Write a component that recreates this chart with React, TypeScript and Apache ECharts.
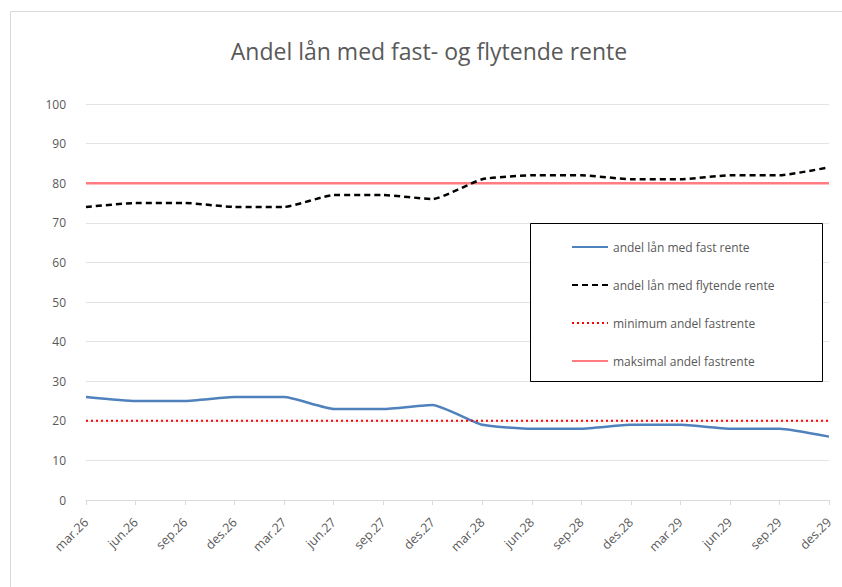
import React, { useEffect, useRef } from "react";
import * as echarts from "echarts";

const categories = [
  "mar.26", "jun.26", "sep.26", "des.26",
  "mar.27", "jun.27", "sep.27", "des.27",
  "mar.28", "jun.28", "sep.28", "des.28",
  "mar.29", "jun.29", "sep.29", "des.29",
];
const fastRente = [26, 25, 25, 26, 26, 23, 23, 24, 19, 18, 18, 19, 19, 18, 18, 16];
const flytendeRente = [74, 75, 75, 74, 74, 77, 77, 76, 81, 82, 82, 81, 81, 82, 82, 84];
const minFastrente = [20, 20, 20, 20, 20, 20, 20, 20, 20, 20, 20, 20, 20, 20, 20, 20];
const maksFastrente = [80, 80, 80, 80, 80, 80, 80, 80, 80, 80, 80, 80, 80, 80, 80, 80];

const seriesNames = [
  "andel lån med fast rente",
  "andel lån med flytende rente",
  "minimum andel fastrente",
  "maksimal andel fastrente",
];

const FONT = "'Open Sans', 'Noto Sans', sans-serif";
const TEXT = "#595959";

export default function App() {
  const ref = useRef<HTMLDivElement>(null);
  useEffect(() => {
    if (!ref.current) return;
    const chart = echarts.init(ref.current, null, { renderer: "svg" });
    chart.setOption({
      animation: false,
      backgroundColor: "#ffffff",
      title: {
        text: "Andel lån med fast- og flytende rente",
        left: 424,
        textAlign: "center",
        top: 34,
        textStyle: { fontFamily: FONT, fontSize: 23, fontWeight: "normal", color: TEXT },
      },
      graphic: [
        {
          type: "rect",
          shape: { x: 10.5, y: 11.5, width: 840, height: 580 },
          style: { fill: "none", stroke: "#d9d9d9", lineWidth: 1 },
          silent: true,
        },
        {
          type: "rect",
          shape: { x: 530.5, y: 223.5, width: 292, height: 158 },
          style: { fill: "#ffffff", stroke: "#000000", lineWidth: 1 },
          z: 5,
          silent: true,
        },
      ],
      legend: {
        orient: "vertical",
        left: 566,
        top: 236,
        itemWidth: 36,
        itemHeight: 14,
        itemGap: 26,
        z: 10,
        itemStyle: { color: "transparent", borderColor: "transparent", borderWidth: 0, opacity: 0 },
        textStyle: { fontFamily: FONT, fontSize: 12, color: TEXT },
        data: seriesNames,
      },
      grid: { left: 86, top: 104, width: 743, height: 396, containLabel: false },
      xAxis: {
        type: "category",
        data: categories,
        boundaryGap: false,
        axisLine: { lineStyle: { color: "#d9d9d9" } },
        axisTick: { show: true, length: 5, lineStyle: { color: "#d9d9d9" } },
        axisLabel: {
          rotate: 45,
          fontFamily: FONT,
          fontSize: 12.5,
          color: TEXT,
          margin: 20,
          interval: 0,
        },
      },
      yAxis: {
        type: "value",
        min: 0,
        max: 100,
        interval: 10,
        axisLine: { show: false },
        axisTick: { show: false },
        axisLabel: { fontFamily: FONT, fontSize: 12, color: TEXT, margin: 20 },
        splitLine: { lineStyle: { color: "#e3e3e3", width: 1 } },
      },
      series: [
        {
          name: seriesNames[0],
          type: "line",
          data: fastRente,
          symbol: "none",
          smooth: 0.15,
          lineStyle: { color: "#4f81bd", width: 2.5 },
          itemStyle: { color: "#4f81bd" },
        },
        {
          name: seriesNames[1],
          type: "line",
          data: flytendeRente,
          symbol: "none",
          smooth: 0.15,
          lineStyle: { color: "#000000", width: 2.5, type: [6, 4] },
          itemStyle: { color: "#000000" },
        },
        {
          name: seriesNames[2],
          type: "line",
          data: minFastrente,
          symbol: "none",
          lineStyle: { color: "#ff0000", width: 2, type: [2, 3] },
          itemStyle: { color: "#ff0000" },
        },
        {
          name: seriesNames[3],
          type: "line",
          data: maksFastrente,
          symbol: "none",
          z: 1,
          lineStyle: { color: "#ff7c80", width: 2.5 },
          itemStyle: { color: "#ff7c80" },
        },
      ],
    });
    return () => chart.dispose();
  }, []);
  return (
    <div
      ref={ref}
      style={{ position: "fixed", left: 0, top: 0, width: 842, height: 587 }}
    />
  );
}
